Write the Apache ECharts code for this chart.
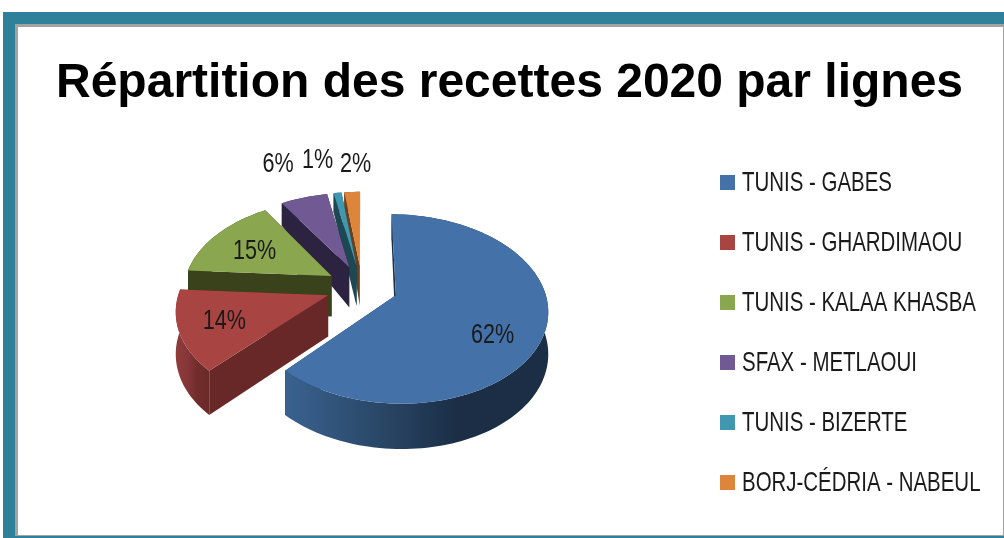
<!DOCTYPE html>
<html><head><meta charset="utf-8">
<style>html,body{margin:0;padding:0;background:#fff}#c{width:1004px;height:538px}</style>
<script src="https://cdn.jsdelivr.net/npm/echarts@6/dist/echarts.min.js"></script>
</head><body><div id="c"></div>
<script>
const categories = ['TUNIS - GABES','TUNIS - GHARDIMAOU','TUNIS - KALAA KHASBA','SFAX - METLAOUI','TUNIS - BIZERTE','BORJ-CÉDRIA - NABEUL'];
const shares = [62,14,15,6,1,2];
const titleText = 'Répartition des recettes 2020 par lignes';

// Styles (not data)
const topColors  = ['#4472a8','#a84442','#8aa64e','#715a94','#3f97b0','#dd853b'];
const wallColors = ['#1b2f47','#682827','#3a421b','#2c2340','#1d4753','#6b3f1a'];
const arcGradients = [
  ['#3a6290','#2a4868','#1b2e46','#1b2e46'],
  ['#8f3b39','#86363a','#702c2a','#6a2a28'],
  ['#3a421b','#3a421b','#3a421b','#3a421b'],
  ['#2c2340','#2c2340','#2c2340','#2c2340'],
  ['#1d4753','#1d4753','#1d4753','#1d4753'],
  ['#6b3f1a','#6b3f1a','#6b3f1a','#6b3f1a']
];
const labelRadius = [0.66,0.72,0.62,1.28,1.24,1.25];
const labelNudge = [[0,17],[2,1],[-4,2],[-15,-16],[-16,-17],[5,-12]];
const FONT = '"Liberation Sans",Arial,sans-serif';
const CX=362, CY=287, R=148, SQ=0.61, PERSP=0.144, EXPLODE=0.243;
const LEGEND_TEXT_X=742, LEGEND_TEXT_Y0=183, LEGEND_STEP=60, LEGEND_SCALE=0.73, LABEL_SCALE=0.8;

const total = shares.reduce((a,b)=>a+b,0);
function proj(ex,ey,th,f,z){
  const x=ex+Math.sin(th)*f, y=ey-Math.cos(th)*f, k=1/(1-PERSP*y);
  const d=y>=-0.24?41+4*y:40+(y+0.24)*21;
  return [CX+R*x*k, CY+R*SQ*y*k+d*z];
}
function wedge(i,val,startShare){
  const a0=startShare/total*2*Math.PI, a1=(startShare+val)/total*2*Math.PI, mid=(a0+a1)/2;
  const ex=EXPLODE*Math.sin(mid), ey=-EXPLODE*Math.cos(mid);
  const n=Math.max(4,Math.ceil((a1-a0)/0.03));
  const top=[],bot=[];
  for(let j=0;j<=n;j++){const t=a0+(a1-a0)*j/n; top.push(proj(ex,ey,t,1,0)); bot.push(proj(ex,ey,t,1,1));}
  const apexT=proj(ex,ey,0,0,0), apexB=proj(ex,ey,0,0,1);
  const g=arcGradients[i];
  const lp=proj(ex,ey,mid,labelRadius[i],0);
  return {type:'group',children:[
    {type:'polygon',shape:{points:[apexT,top[n],bot[n],apexB]},style:{fill:wallColors[i]}},
    {type:'polygon',shape:{points:[apexT,top[0],bot[0],apexB]},style:{fill:wallColors[i]}},
    {type:'polygon',shape:{points:top.concat(bot.slice().reverse())},style:{fill:{type:'linear',x:0,y:0,x2:1,y2:0,colorStops:[{offset:0,color:g[0]},{offset:.35,color:g[1]},{offset:.65,color:g[2]},{offset:1,color:g[3]}]}}},
    {type:'polygon',shape:{points:[apexT].concat(top)},style:{fill:topColors[i]}},
    {type:'text',x:lp[0]+labelNudge[i][0],y:lp[1]+labelNudge[i][1],scaleX:LABEL_SCALE,style:{x:0,y:0,text:shares[i]+'%',fontSize:27,fontFamily:FONT,fill:'#1a1a1a',align:'center',verticalAlign:'middle'}}
  ]};
}
let cum=0;
const series=categories.map((name,i)=>{
  const start=cum; cum+=shares[i];
  return {
    type:'custom',name,coordinateSystem:'none',z:2+i,
    itemStyle:{color:topColors[i]},
    data:[shares[i]],
    renderItem:(p,api)=>wedge(i,api.value(0),start)
  };
});
// painter order: back slices first, large front slice last
[5,4,3,2,1,0].forEach((s,idx)=>{series[s].z=2+idx;});

const chart=echarts.init(document.getElementById('c'),null,{renderer:'canvas'});
chart.setOption({
  animation:false,
  backgroundColor:'#fff',
  graphic:[
    {type:'rect',z:-10,silent:true,shape:{x:3,y:12,width:1001,height:526},style:{fill:'#2f8099'}},
    {type:'rect',z:-9,silent:true,shape:{x:15,y:24,width:989,height:512},style:{fill:'#a3a3a3'}},
    {type:'rect',z:-8,silent:true,shape:{x:18,y:27,width:985,height:508},style:{fill:'#ffffff'}}
  ].concat(categories.map((name,i)=>({
    type:'text',silent:true,z:20,x:LEGEND_TEXT_X,y:LEGEND_TEXT_Y0+LEGEND_STEP*i,scaleX:LEGEND_SCALE,
    style:{x:0,y:0,text:name,fontFamily:FONT,fontSize:28,fill:'#1a1a1a',align:'left',verticalAlign:'middle'}
  }))),
  title:{text:titleText,left:56,top:60,padding:0,itemGap:0,textStyle:{fontFamily:FONT,fontWeight:'bold',fontSize:48,color:'#000'}},
  legend:{orient:'vertical',left:715,top:170,itemWidth:15,itemHeight:15,itemGap:45,icon:'rect',data:categories,selectedMode:false,
    formatter:()=>' ',textStyle:{fontSize:12,lineHeight:15,color:'#1a1a1a'}},
  series
});
</script></body></html>
